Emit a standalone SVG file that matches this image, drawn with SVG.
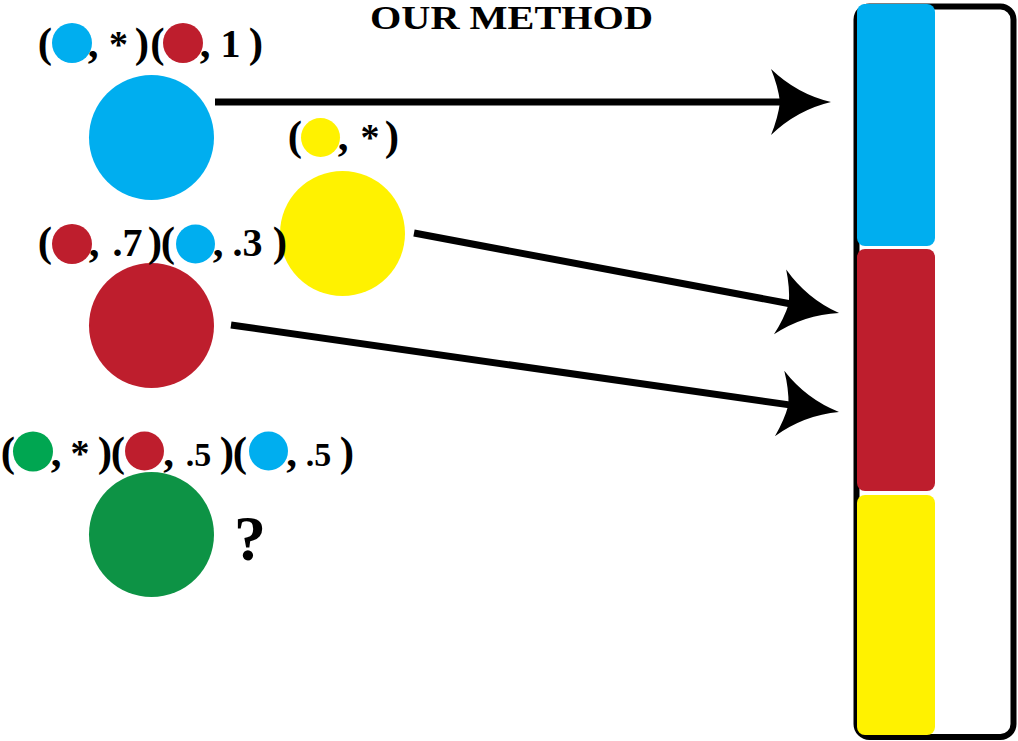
<svg xmlns="http://www.w3.org/2000/svg" width="1018" height="741" viewBox="0 0 1018 741">
<style>
.t{font-family:"Liberation Serif","Times New Roman",serif;font-weight:bold;fill:#000;text-anchor:middle}
.l{font-size:43px}
.d{font-size:40px}
.s{font-size:34px}
.a{font-size:38px}
.line{stroke:#000;stroke-width:7;fill:none}
.blue{fill:#00AEEF}
.red{fill:#BE1E2D}
.yellow{fill:#FFF200}
.green{fill:#00A651}
.dgreen{fill:#0D9345}
</style>
<defs>
<marker id="ah" markerUnits="userSpaceOnUse" orient="auto" refX="0" refY="0" markerWidth="120" markerHeight="120" overflow="visible">
<path d="M50,0 Q16,-8 -10,-33 Q-3,-16 -1,0 Q-3,16 -10,33 Q16,8 50,0 Z" fill="#000"/>
</marker>
</defs>
<rect width="1018" height="741" fill="#fff"/>

<text class="t" x="511.5" y="29" font-size="34" textLength="283" lengthAdjust="spacingAndGlyphs">OUR METHOD</text>

<g id="connectors">
<line class="line" x1="215" y1="102" x2="781" y2="102" marker-end="url(#ah)"/>
<line class="line" x1="414" y1="233" x2="789.9" y2="303.75" marker-end="url(#ah)"/>
<line class="line" x1="231" y1="325" x2="789.5" y2="404.9" marker-end="url(#ah)"/>
</g>

<g id="node-blue">
<circle class="blue" cx="151.5" cy="137.5" r="62.5"/>
<text class="t l" y="57"><tspan x="45">(</tspan><tspan x="93">,</tspan><tspan x="118.5" class="a">*</tspan><tspan x="142">)</tspan><tspan x="157.5">(</tspan><tspan x="205">,</tspan><tspan x="230.5" class="d">1</tspan><tspan x="256">)</tspan></text>
<circle class="blue" cx="72" cy="43" r="20"/>
<circle class="red" cx="183" cy="43" r="20"/>
</g>

<g id="node-yellow">
<circle class="yellow" cx="342.5" cy="233.5" r="62.5"/>
<text class="t l" y="150"><tspan x="295">(</tspan><tspan x="343">,</tspan><tspan x="370" class="a">*</tspan><tspan x="392">)</tspan></text>
<circle class="yellow" cx="320.5" cy="137.5" r="19.5"/>
</g>

<g id="node-red">
<circle class="red" cx="151.5" cy="325.5" r="62.5"/>
<text class="t l" y="256"><tspan x="45">(</tspan><tspan x="94">,</tspan><tspan x="127.5" class="d">.7</tspan><tspan x="155">)</tspan><tspan x="168">(</tspan><tspan x="218">,</tspan><tspan x="247.5" class="d">.3</tspan><tspan x="280">)</tspan></text>
<circle class="red" cx="72" cy="244" r="20"/>
<circle class="blue" cx="195.5" cy="244" r="19.5"/>
</g>

<g id="node-green">
<circle class="dgreen" cx="151.5" cy="534.5" r="62.5"/>
<text class="t l" y="466"><tspan x="8">(</tspan><tspan x="56">,</tspan><tspan x="80" class="a">*</tspan><tspan x="105">)</tspan><tspan x="118">(</tspan><tspan x="168.5">,</tspan><tspan x="198.5" class="s">.5</tspan><tspan x="227">)</tspan><tspan x="240">(</tspan><tspan x="291.5">,</tspan><tspan x="318.5" class="s">.5</tspan><tspan x="347">)</tspan></text>
<circle class="green" cx="33" cy="451.5" r="20"/>
<circle class="red" cx="144.5" cy="451" r="19.5"/>
<circle class="blue" cx="268.5" cy="451" r="19.5"/>
<text class="t" x="250" y="560" font-size="64">?</text>
</g>

<g id="node-bar">
<rect x="856.5" y="6.5" width="157" height="730.5" rx="13" fill="none" stroke="#000" stroke-width="6"/>
<rect class="blue" x="857" y="4" width="78" height="242" rx="8"/>
<rect class="red" x="857" y="249" width="78" height="242" rx="8"/>
<rect class="yellow" x="857" y="495" width="78" height="240" rx="8"/>
</g>
</svg>
